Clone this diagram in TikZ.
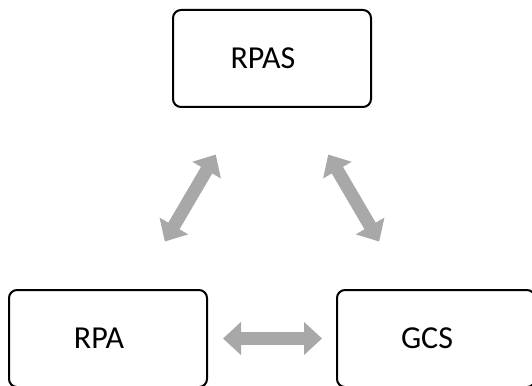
\documentclass[tikz,border=0pt]{standalone}
\usepackage{fontspec}
\setmainfont{Carlito}
\usepackage{tikz}
\usetikzlibrary{arrows.meta}
\definecolor{linkgray}{HTML}{A8A8A8}
\tikzset{
  sysbox/.style={draw=black,line width=2pt,rounded corners=8pt,fill=white,minimum width=198pt,minimum height=97pt,font=\fontsize{32}{38}\selectfont,execute at begin node={\hspace*{-18pt}}},
  linkarrow/.style={{Triangle[width=32pt,length=18pt]}-{Triangle[width=32pt,length=18pt]},draw=linkgray,fill=linkgray,line width=13pt},
}
\begin{document}
\begin{tikzpicture}[x=1pt,y=-1pt]
  \clip (0,0) rectangle (532,385);
  \fill[white] (0,0) rectangle (532,385);
  \node[sysbox] (rpas) at (272,58.5) {RPAS};
  \node[sysbox] (rpa) at (108,338.5) {RPA};
  \node[sysbox] (gcs) at (436,338.5) {GCS};
  \draw[linkarrow,shorten <=54pt,shorten >=55pt] (rpas)--(rpa);
  \draw[linkarrow,shorten <=54pt,shorten >=55pt] (rpas)--(gcs);
  \draw[linkarrow,shorten <=15pt,shorten >=14pt] (rpa)--(gcs);
\end{tikzpicture}
\end{document}
